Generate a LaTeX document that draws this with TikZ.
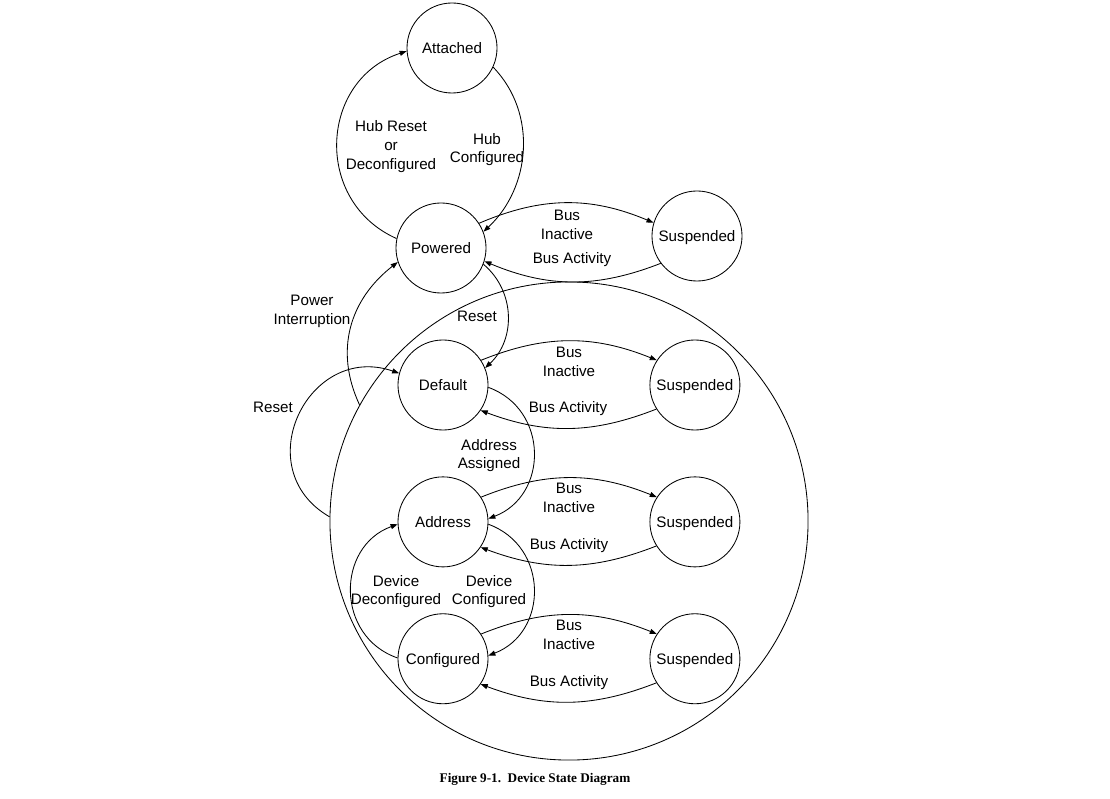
\documentclass[tikz,border=0pt]{standalone}
\usepackage{fontspec}
\setmainfont{Liberation Serif}
\setsansfont{Liberation Sans}
\usepackage{tikz}
\usetikzlibrary{arrows.meta, positioning}

\begin{document}
\begin{tikzpicture}[
    x=0.025cm, y=-0.025cm,
    line width=0.6pt,
    statenode/.style={circle, draw, minimum size=2.25cm, inner sep=0pt, text depth=0pt,
                      font=\sffamily\fontsize{10.8}{13}\selectfont},
    lbl/.style={font=\sffamily\fontsize{10.8}{13.2}\selectfont, align=center,
                inner sep=0pt, text depth=0pt},
    arr/.style={-{Triangle[length=5pt, width=3.6pt]}},
]
\useasboundingbox (0,0) rectangle (1110,799);

\node[circle, draw, minimum size=11.95cm, inner sep=0pt] (group) at (569,521) {};

\node[statenode] (attached) at (452,48) {Attached};
\node[statenode] (powered) at (441,248) {Powered};
\node[statenode] (susp1) at (697,236) {Suspended};

\node[statenode] (default) at (443,385) {Default};
\node[statenode, below=1.15cm of default] (address) {Address};
\node[statenode, below=1.15cm of address] (configured) {Configured};

\node[statenode, right=4.025cm of default] (susp2) {Suspended};
\node[statenode, right=4.025cm of address] (susp3) {Suspended};
\node[statenode, right=4.025cm of configured] (susp4) {Suspended};

\draw[arr] (attached.-25) to[out=-46, in=43, looseness=1.0] (powered.21);
\draw[arr] (powered.168) to[out=156, in=198, looseness=1.25] (attached.184);
\node[lbl] (hubreset) at (391,145) {Hub Reset\\or\\Deconfigured};
\node[lbl] (hubconf) at (487,148) {Hub\\Configured};

\draw[arr] (powered.33) to[bend left=23] (susp1.163);
\draw[arr] (susp1.217) to[bend left=22] (powered.-17);
\node[lbl] (inact1) at (567,225) {Bus\\Inactive};
\node[lbl] (act1) at (572,258) {Bus Activity};

\draw[arr] (powered.-21) to[out=-40, in=43, looseness=1.03] (default.22);
\node[lbl] (reset1) at (477,316) {Reset};

\draw[arr] (group.151) to[out=115, in=218, looseness=1.05] (powered.198);
\node[lbl] (powint) at (312,310) {Power\\Interruption};

\draw[arr] (group.179) to[out=150, in=161, looseness=1.54] (default.165);
\node[lbl] (reset2) at (273,407) {Reset};

\draw[arr] (default.33) to[bend left=22] (susp2.147);
\draw[arr] (susp2.212) to[bend left=21] (default.-34);
\node[lbl] (inact2) at (569,362) {Bus\\Inactive};
\node[lbl] (act2) at (568,407) {Bus Activity};

\draw[arr] (default.-3) to[out=-20, in=21, looseness=1.26] (address.4);
\node[lbl] (addrass) at (489,454) {Address\\Assigned};

\draw[arr] (address.33) to[bend left=22] (susp3.147);
\draw[arr] (susp3.212) to[bend left=21] (address.-34);
\node[lbl] (inact3) at (569,498) {Bus\\Inactive};
\node[lbl] (act3) at (569,544) {Bus Activity};

\draw[arr] (address.-3) to[out=-20, in=21, looseness=1.26] (configured.4);
\draw[arr] (configured.179) to[out=161, in=200, looseness=1.26] (address.183);
\node[lbl] (devdeconf) at (396,590) {Device\\Deconfigured};
\node[lbl] (devconf) at (489,590) {Device\\Configured};

\draw[arr] (configured.33) to[bend left=22] (susp4.147);
\draw[arr] (susp4.212) to[bend left=21] (configured.-34);
\node[lbl] (inact4) at (569,635) {Bus\\Inactive};
\node[lbl] (act4) at (569,681) {Bus Activity};

\node[font=\bfseries\fontsize{9.4}{11}\selectfont, inner sep=0pt] (caption) at (535,779)
    {Figure 9-1.~~Device State Diagram};
\end{tikzpicture}
\end{document}
